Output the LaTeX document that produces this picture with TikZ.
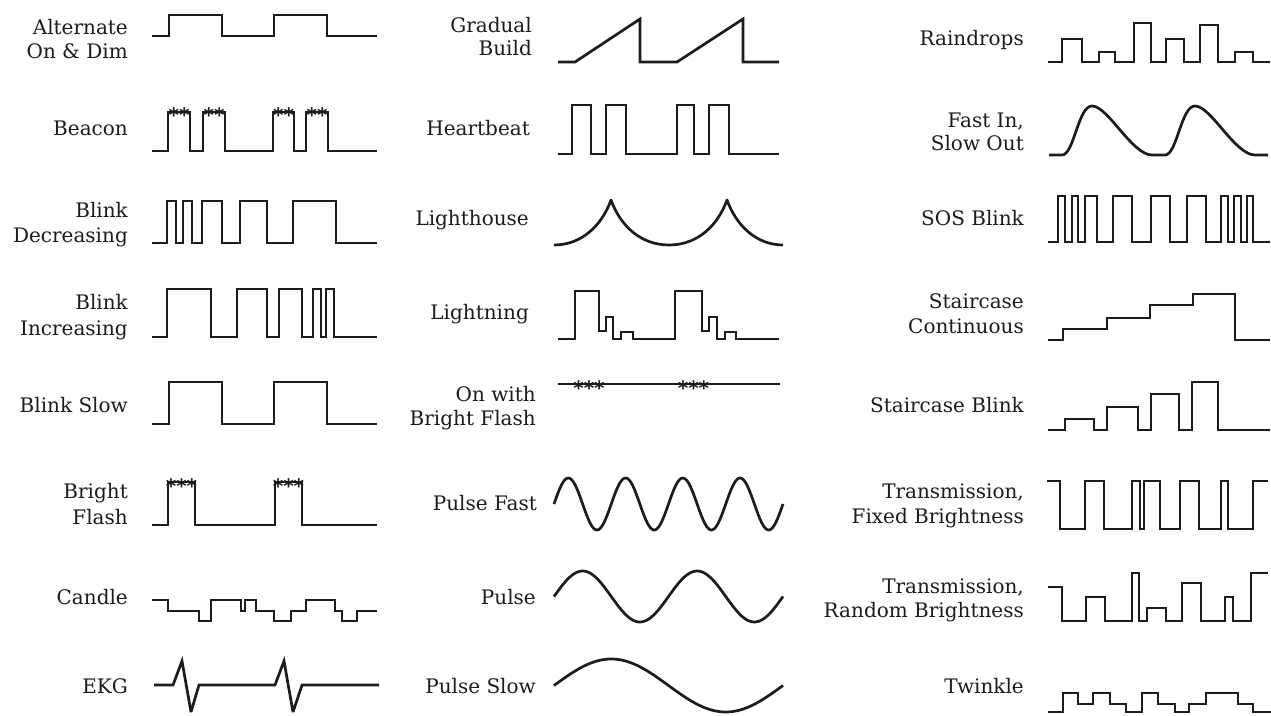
\documentclass[tikz,border=0pt]{standalone}
\usepackage{fontspec}
\setmainfont{DejaVu Serif}
\newfontfamily\starfont{DejaVu Sans}
\definecolor{ink}{HTML}{1c1c1c}
\tikzset{
  wave/.style={draw=ink, line width=2.7pt, line join=miter, miter limit=4, line cap=butt},
  lab/.style={anchor=base east, inner sep=0pt, text=ink, font=\fontsize{20}{24}\selectfont},
  stars/.style={anchor=base, inner sep=0pt, text=ink, font=\starfont\bfseries\fontsize{20}{20}\selectfont}
}
\begin{document}
\begin{tikzpicture}[x=1pt,y=-1pt]
\useasboundingbox (0,0) rectangle (1271,715);
\fill[white] (0,0) rectangle (1271,715);

% ---------- column 1 ----------
\node[lab] (l1a) at (128,34) {Alternate};
\node[lab] (l1b) at (128,58) {On \& Dim};
\draw[wave] (152,36) -| (169,15) -| (222,36) -| (274,15) -| (327,36) -- (377,36);

\node[lab] (l2) at (128,135) {Beacon};
\draw[wave] (152,151) -| (168,112) -| (190,151) -| (203,112) -| (225,151) -| (273,112) -| (294,151) -| (306,112) -| (328,151) -- (377,151);
\node[stars] (s2a) at (179,122.3) {**};
\node[stars] (s2b) at (214,122.3) {**};
\node[stars] (s2c) at (283.5,122.3) {**};
\node[stars] (s2d) at (317,122.3) {**};

\node[lab] (l3a) at (128,217) {Blink};
\node[lab] (l3b) at (128,242) {Decreasing};
\draw[wave] (152,243) -| (167,201) -| (176,243) -| (183,201) -| (192,243) -| (202,201) -| (222,243) -| (240,201) -| (267,243) -| (293,201) -| (336,243) -- (377,243);

\node[lab] (l4a) at (128,309) {Blink};
\node[lab] (l4b) at (128,335) {Increasing};
\draw[wave] (152,337) -| (167,289) -| (211,337) -| (237,289) -| (267,337) -| (279,289) -| (302,337) -| (313,289) -| (321,337) -| (326,289) -| (334,337) -- (377,337);

\node[lab] (l5) at (128,412) {Blink Slow};
\draw[wave] (152,424) -| (169,382) -| (222,424) -| (274,382) -| (327,424) -- (377,424);

\node[lab] (l6a) at (128,498) {Bright};
\node[lab] (l6b) at (128,524) {Flash};
\draw[wave] (152,525) -| (168,482) -| (195,525) -| (275,482) -| (302,525) -- (377,525);
\node[stars] (s6a) at (181.5,493.3) {***};
\node[stars] (s6b) at (288.5,493.3) {***};

\node[lab] (l7) at (128,604) {Candle};
\draw[wave] (152,600) -| (168,611) -| (199,621) -| (211,600) -| (241,611) -| (245,600) -| (256,611) -| (274,621) -| (291,611) -| (306,600) -| (335,611) -| (342,621) -| (357,611) -- (377,611);

\node[lab] (l8) at (128,693) {EKG};
\draw[wave] (154,685) -- (173,685) -- (182,661) -- (191,712) -- (199,685) -- (275,685) -- (284,661) -- (293,712) -- (302,685) -- (379,685);

% ---------- column 2 ----------
\node[lab] (m1a) at (532,32) {Gradual};
\node[lab] (m1b) at (532,55) {Build};
\draw[wave] (558,62) -- (575,62) -- (640,19) -- (640,62) -- (677,62) -- (743,19) -- (743,62) -- (779,62);

\node[lab] (m2) at (530,135) {Heartbeat};
\draw[wave] (558,154) -| (572,105) -| (591,154) -| (606,105) -| (626,154) -| (677,105) -| (694,154) -| (709,105) -| (729,154) -- (779,154);

\node[lab] (m3) at (529,225) {Lighthouse};
\draw[wave, line join=round] (554,245) .. controls (582,245) and (602,225) .. (611,200) .. controls (620,225) and (640,245) .. (669,245) .. controls (698,245) and (718,225) .. (727,200) .. controls (736,225) and (756,245) .. (783,245);

\node[lab] (m4) at (529,319) {Lightning};
\draw[wave] (558,339) -| (575,291) -| (599,331) -| (606,317) -| (613,339) -| (621,332) -| (633,339) -| (675,291) -| (702,331) -| (709,317) -| (717,339) -| (725,332) -| (736,339) -- (779,339);

\node[lab] (m5a) at (536,401) {On with};
\node[lab] (m5b) at (536,425) {Bright Flash};
\draw[wave] (558,384) -- (780,384);
\node[stars] (s5a) at (589,395.8) {***};
\node[stars] (s5b) at (693.5,395.8) {***};

\node[lab] (m6) at (537,510) {Pulse Fast};
\draw[wave] plot[domain=0:229, samples=160, smooth] ({554+\x}, {504-26*sin(6.2882*\x)});

\node[lab] (m7) at (536,604) {Pulse};
\draw[wave] plot[domain=0:229, samples=120, smooth] ({554+\x}, {596.5-25.5*sin(3.1441*\x)});

\node[lab] (m8) at (536,693) {Pulse Slow};
\draw[wave] plot[domain=0:229, samples=100, smooth] ({554+\x}, {685.5-26.5*sin(1.5721*\x)});

% ---------- column 3 ----------
\node[lab] (r1) at (1024,45) {Raindrops};
\draw[wave] (1048,62) -| (1062,39) -| (1082,62) -| (1099,52) -| (1115,62) -| (1134,23) -| (1151,62) -| (1166,39) -| (1184,62) -| (1200,25) -| (1218,62) -| (1235,52) -| (1253,62) -- (1270,62);

\node[lab] (r2a) at (1024,127) {Fast In,};
\node[lab] (r2b) at (1024,150) {Slow Out};
\draw[wave, line join=round] (1049,155) -- (1062,155) .. controls (1074,155) and (1078,106) .. (1092,106) .. controls (1108,106) and (1132,155) .. (1152,155) -- (1165,155) .. controls (1177,155) and (1181,106) .. (1195,106) .. controls (1211,106) and (1235,155) .. (1255,155) -- (1268,155);

\node[lab] (r3) at (1024,225) {SOS Blink};
\draw[wave] (1048,242) -| (1058,196) -| (1065,242) -| (1072,196) -| (1078,242) -| (1085,196) -| (1097,242) -| (1113,196) -| (1132,242) -| (1151,196) -| (1170,242) -| (1187,196) -| (1206,242) -| (1221,196) -| (1228,242) -| (1234,196) -| (1241,242) -| (1247,196) -| (1253,242) -- (1270,242);

\node[lab] (r4a) at (1024,308) {Staircase};
\node[lab] (r4b) at (1024,333) {Continuous};
\draw[wave] (1048,340) -| (1063,329) -| (1107,318) -| (1150,305) -| (1193,294) -| (1235,340) -- (1270,340);

\node[lab] (r5) at (1024,412) {Staircase Blink};
\draw[wave] (1048,430) -| (1065,419) -| (1094,430) -| (1107,407) -| (1138,430) -| (1151,394) -| (1179,430) -| (1192,382) -| (1218,430) -- (1270,430);

\node[lab] (r6a) at (1024,498) {Transmission,};
\node[lab] (r6b) at (1024,523) {Fixed Brightness};
\draw[wave] (1047,481) -| (1060,529) -| (1085,481) -| (1104,529) -| (1132,481) -| (1140,529) -| (1144,481) -| (1160,529) -| (1180,481) -| (1199,529) -| (1221,481) -| (1228,529) -| (1253,481) -- (1268,481);

\node[lab] (r7a) at (1024,593) {Transmission,};
\node[lab] (r7b) at (1024,617) {Random Brightness};
\draw[wave] (1048,587) -| (1062,621) -| (1086,597) -| (1105,621) -| (1132,573) -| (1139,621) -| (1147,608) -| (1166,621) -| (1182,583) -| (1201,621) -| (1225,597) -| (1233,621) -| (1251,573) -- (1268,573);

\node[lab] (r8) at (1024,693) {Twinkle};
\draw[wave] (1048,712) -| (1063,693) -| (1078,704) -| (1093,693) -| (1110,704) -| (1126,712) -| (1142,693) -| (1158,704) -| (1175,712) -| (1189,704) -| (1206,693) -| (1238,704) -| (1253,712) -- (1271,712);
\end{tikzpicture}
\end{document}
